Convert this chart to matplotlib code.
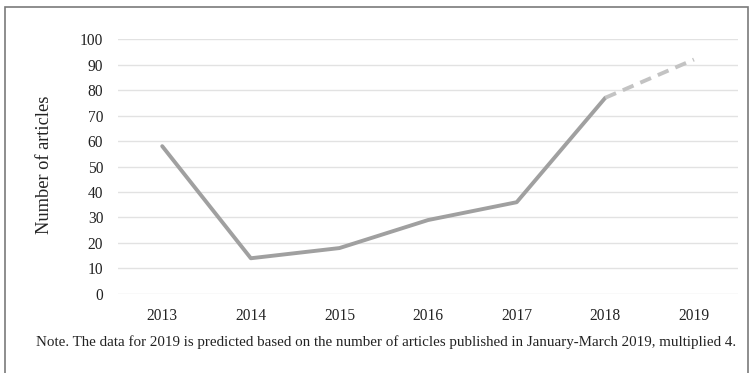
import matplotlib.pyplot as plt
from matplotlib.patches import Rectangle

# Data
years = ['2013', '2014', '2015', '2016', '2017', '2018', '2019']
articles = [58, 14, 18, 29, 36, 77, 92]
yticks = list(range(0, 101, 10))
note = ('Note. The data for 2019 is predicted based on the number of articles '
        'published in January-March 2019, multiplied 4.')

plt.rcParams['font.family'] = ['Liberation Serif', 'DejaVu Serif']

fig = plt.figure(figsize=(7.51, 3.73), dpi=100)
ax = fig.add_axes([0.157, 0.212, 0.826, 0.683])

x = list(range(len(years)))
# observed years solid, predicted last year dashed
ax.plot(x[:-1], articles[:-1], color='#a0a0a0', lw=2.8, solid_capstyle='round',
        solid_joinstyle='round', zorder=3)
ax.plot(x[-2:], articles[-2:], color='#c3c3c3', lw=2.8, linestyle=(0, (3.0, 1.9)),
        dash_capstyle='butt', zorder=3)

ax.set_xlim(-0.5, len(years) - 0.5)
ax.set_ylim(0, 100)
ax.set_xticks(x)
ax.set_xticklabels(years)
ax.set_yticks(yticks)
ax.tick_params(length=0, labelsize=11.2, colors='#222222')
ax.tick_params(axis='x', pad=10)
ax.tick_params(axis='y', pad=10.5)
ax.grid(axis='y', color='#e2e2e2', lw=1)
ax.set_axisbelow(True)
for s in ax.spines.values():
    s.set_visible(False)

ax.set_ylabel('Number of articles', fontsize=13.2, color='#222222')
ax.yaxis.set_label_coords(-0.104, 0.505)

fig.text(0.048, 0.083, note, fontsize=10.8, color='#222222', va='center')

# outer frame
fig.add_artist(Rectangle((0.007, -0.05), 0.989, 1.031, transform=fig.transFigure,
                         fill=False, edgecolor='#7a7a7a', lw=1.2))

plt.savefig('out.png', dpi=100)
